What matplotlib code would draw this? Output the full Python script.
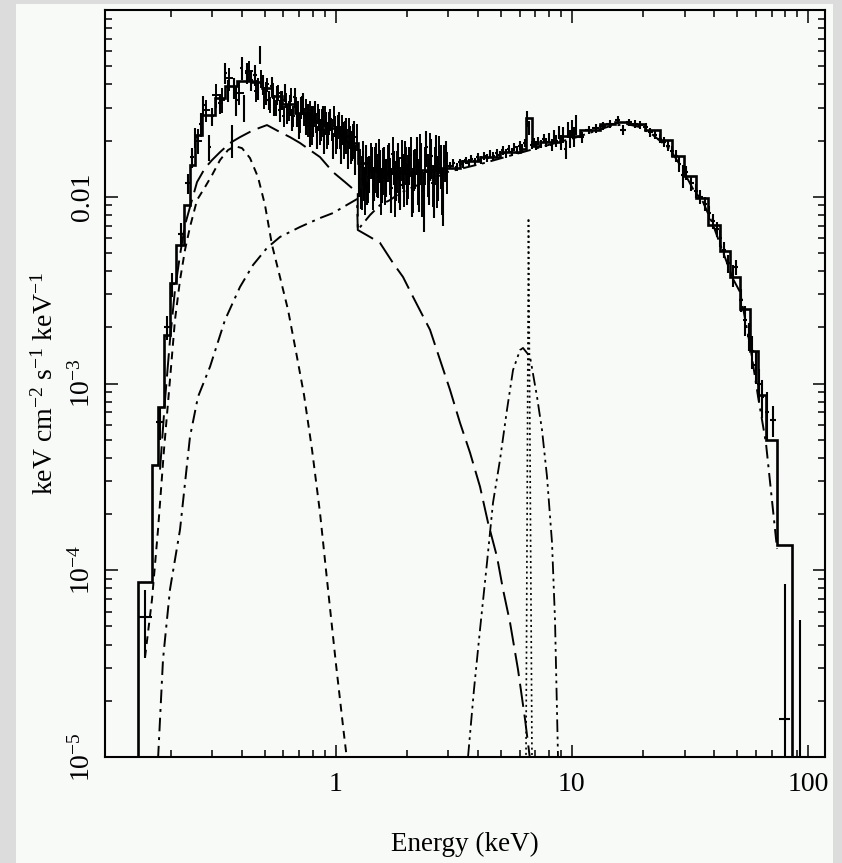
import numpy as np
import matplotlib
matplotlib.use("Agg")
import matplotlib.pyplot as plt
from matplotlib.patches import Rectangle
from matplotlib.ticker import FixedLocator, FixedFormatter, LogLocator, NullFormatter

plt.rcParams['font.family'] = ['Liberation Serif', 'DejaVu Serif']
plt.rcParams['mathtext.fontset'] = 'custom'
plt.rcParams['mathtext.rm'] = 'Liberation Serif'
plt.rcParams['mathtext.it'] = 'Liberation Serif:italic'

##### DATA #####
# total model, step histogram (bin edges in keV, flux per bin)
model_edges = [0.1456, 0.1668, 0.1769, 0.1875, 0.1988, 0.2108, 0.2279, 0.2416, 0.2537, 0.2716,
               0.3083, 0.3399, 0.3821, 0.4420, 0.4875, 0.5374, 0.5925, 0.6724, 0.7783, 0.9010,
               1.043, 1.172, 1.243, 1.397, 1.617, 1.871, 2.275, 2.764, 3.359, 4.083,
               4.962, 6.030, 6.39, 6.78, 7.328, 8.906, 10.82, 13.15, 15.22, 17.62,
               20.39, 23.61, 26.53, 29.83, 33.53, 37.69, 42.36, 46.71, 51.49, 56.76,
               61.37, 66.34, 73.87, 85.50]
model_flux = [8.7e-5, 3.67e-4, 7.5e-4, 1.82e-3, 3.46e-3, 5.52e-3, 9.03e-3, 0.0148, 0.0214,
              0.0274, 0.0337, 0.0391, 0.0416, 0.0410, 0.0381, 0.0346, 0.0313, 0.0280, 0.0254,
              0.0233, 0.0211, 0.0194, 0.0151, 0.0139, 0.0136, 0.0134, 0.0139, 0.0142, 0.0155,
              0.0163, 0.0173, 0.0180, 0.0264, 0.0187, 0.0196, 0.0211, 0.0227, 0.0245, 0.0251,
              0.0245, 0.0227, 0.0201, 0.0165, 0.0129, 0.0098, 0.0071, 0.0051, 0.0037, 0.0025,
              0.0015, 8.7e-4, 5.0e-4, 1.37e-4]

# soft blackbody-like component (short dashes)
bb_E = [0.1558, 0.1668, 0.1769, 0.1875, 0.1988, 0.2087, 0.2192, 0.2301, 0.2416, 0.2587,
        0.2797, 0.2995, 0.3238, 0.3499, 0.3747, 0.4012, 0.4337, 0.4688, 0.5019, 0.5374,
        0.5808, 0.6282, 0.6791, 0.7341, 0.7939, 0.8581, 0.9278, 1.003, 1.084, 1.150]
bb_flux = [3.41e-5, 6.97e-5, 1.65e-4, 4.42e-4, 1.05e-3, 2.19e-3, 3.58e-3, 5.19e-3, 6.89e-3, 9.6e-3,
           0.01127, 0.01306, 0.01572, 0.01778, 0.01867, 0.01821, 0.01611, 0.01274, 9.03e-3, 5.52e-3,
           3.72e-3, 2.48e-3, 1.48e-3, 8.7e-4, 4.42e-4, 2.03e-4, 7.9e-5, 3.13e-5, 1.32e-5, 7.1e-6]

# warm component (long dashes), with the edge near 1.24 keV
ld_E = [0.1804, 0.1894, 0.1988, 0.2087, 0.2192, 0.2301, 0.2416, 0.2587, 0.2797, 0.2995,
        0.3238, 0.3569, 0.3934, 0.4466, 0.5117, 0.5808, 0.6404, 0.7062, 0.7783, 0.8581,
        0.9741, 1.095, 1.24, 1.24, 1.397, 1.540, 1.748, 1.927, 2.125, 2.507,
        2.764, 3.047, 3.359, 3.704, 4.083, 4.414, 4.818, 5.108, 5.470, 5.913,
        6.333, 6.648]
ld_flux = [3.46e-4, 8.18e-4, 1.71e-3, 3.17e-3, 4.88e-3, 7.06e-3, 8.81e-3, 0.01198, 0.01424, 0.01572,
           0.01734, 0.0194, 0.02086, 0.0227, 0.0242, 0.0222, 0.02086, 0.0194, 0.01778, 0.01631,
           0.01355, 0.01198, 0.01047, 6.64e-3, 6.09e-3, 5.66e-3, 4.42e-3, 3.72e-3, 2.91e-3, 1.94e-3,
           1.34e-3, 9.25e-4, 6.16e-4, 4.26e-4, 2.80e-4, 1.80e-4, 1.18e-4, 7.9e-5, 5.25e-5, 2.94e-5,
           1.59e-5, 9.7e-6]

# comptonised continuum (dash-dot)
cp_E = [0.1769, 0.1857, 0.1988, 0.2192, 0.2416, 0.2612, 0.2937, 0.3399, 0.3934, 0.4466,
        0.5117, 0.5808, 0.7062, 0.8581, 0.9741, 1.095, 1.231, 1.24, 1.397, 1.540,
        1.698, 1.871, 2.125, 2.507, 2.960, 4.204, 6.648, 10.51, 14.5, 17.1,
        19.4, 22.05, 26.0, 28.7, 32.6, 35.9, 39.6, 43.6, 48.1, 51.5,
        56.8, 61.4, 66.3, 73.9]
cp_flux = [9.7e-6, 3.33e-5, 7.9e-5, 1.65e-4, 5.19e-4, 8.49e-4, 1.23e-3, 2.19e-3, 3.29e-3, 4.31e-3,
           5.32e-3, 6.09e-3, 6.89e-3, 7.69e-3, 8.18e-3, 8.92e-3, 9.72e-3, 6.64e-3, 7.98e-3, 9.03e-3,
           9.60e-3, 0.01047, 0.01127, 0.01228, 0.01355, 0.0151, 0.01778, 0.02086, 0.0239, 0.0245,
           0.0236, 0.0214, 0.0180, 0.01477, 0.01099, 9.37e-3, 7.06e-3, 5.06e-3, 3.63e-3, 3.09e-3,
           1.60e-3, 8.5e-4, 4.8e-4, 1.3e-4]

# broad iron line (dash-dot-dot)
fe_E = [3.632, 3.850, 4.083, 4.371, 4.634, 4.962, 5.311, 5.632, 6.030, 6.209,
        6.648, 7.117, 7.470, 7.845, 8.236, 8.480, 8.732]
fe_flux = [1.0e-5, 2.30e-5, 4.82e-5, 1.10e-4, 2.30e-4, 3.91e-4, 7.24e-4, 1.18e-3, 1.51e-3, 1.55e-3,
           1.39e-3, 8.49e-4, 5.65e-4, 3.17e-4, 1.41e-4, 5.45e-5, 1.0e-5]

# narrow iron line (dotted)
nl_E = [6.39, 6.55, 6.78]
nl_flux = [9e-6, 7.7e-3, 9e-6]

# unfolded data points, first instrument
data_E = [0.156, 0.180, 0.193, 0.203, 0.222, 0.236, 0.246, 0.254, 0.268, 0.275,
          0.292, 0.300, 0.324, 0.340, 0.350, 0.365, 0.372, 0.380, 0.400, 0.410,
          0.420, 0.440, 0.455, 0.470, 0.478, 0.490, 0.505, 0.520, 0.535, 0.550,
          0.565, 0.580, 0.595, 0.610, 0.625, 0.640, 0.655, 0.670, 0.685, 0.700,
          0.715, 0.730, 0.745, 0.760, 0.775, 0.790, 0.805, 0.820, 0.835, 0.850,
          0.865, 0.880, 0.895, 0.910, 0.930, 0.950, 0.970, 0.990, 1.01, 1.03,
          1.05, 1.07, 1.09, 1.11, 1.13, 1.15, 1.17, 1.19, 1.21, 1.26,
          1.28, 1.30, 1.32, 1.34, 1.36, 1.39, 1.42, 1.45, 1.48, 1.51,
          1.54, 1.57, 1.60, 1.64, 1.68, 1.72, 1.76, 1.80, 1.84, 1.88,
          1.92, 1.96, 2.00, 2.05, 2.10, 2.15, 2.20, 2.25, 2.30, 2.36,
          2.42, 2.48, 2.54, 2.60, 2.66, 2.72, 2.78, 2.85, 2.92, 3.05,
          3.15, 3.25, 3.35, 3.45, 3.55, 3.65, 3.75, 3.87, 4.00, 4.12,
          4.25, 4.38, 4.50, 4.65, 4.80, 4.95, 5.10, 5.25, 5.40, 5.55,
          5.70, 5.85, 6.00, 6.15, 6.30, 6.45, 6.60, 6.75, 6.90, 7.05,
          7.20, 7.40, 7.60, 7.80, 8.00, 8.20, 8.40, 8.60, 8.80, 9.00,
          9.20, 9.40, 9.60, 9.80, 10.0, 10.2, 10.4, 11.0, 11.8, 12.6,
          13.5, 14.5, 15.6, 16.5, 17.5, 18.5, 19.5, 20.5, 21.5, 22.5,
          23.5, 24.5, 25.5, 26.5, 27.5, 28.5, 29.5, 30.5, 32.0, 33.5,
          35.0, 36.5, 38.0, 39.5, 41.0, 42.5, 44.0, 46.0, 48.0, 49.5,
          52.0, 54.0, 56.0, 58.0, 60.0, 62.0, 64.0, 67.0, 71.0, 79.5,
          92.0]
data_flux = [5.6e-5, 6.2e-4, 2.0e-3, 3.4e-3, 6.3e-3, 0.0118, 0.0163, 0.0208, 0.0245, 0.031,
             0.0185, 0.027, 0.0316, 0.046, 0.037, 0.0201, 0.0385, 0.033, 0.049, 0.030,
             0.046, 0.042, 0.045, 0.038, 0.058, 0.040, 0.036, 0.033, 0.039, 0.031,
             0.035, 0.029, 0.033, 0.036, 0.028, 0.031, 0.026, 0.034, 0.027, 0.024,
             0.030, 0.032, 0.025, 0.028, 0.022, 0.027, 0.024, 0.029, 0.021, 0.026,
             0.023, 0.027, 0.020, 0.025, 0.022, 0.026, 0.019, 0.024, 0.021, 0.025,
             0.018, 0.022, 0.020, 0.023, 0.017, 0.021, 0.019, 0.022, 0.016, 0.0125,
             0.0098, 0.0145, 0.012, 0.016, 0.0105, 0.0135, 0.0155, 0.012, 0.0165, 0.0128,
             0.0148, 0.0118, 0.0155, 0.0130, 0.0160, 0.0112, 0.0145, 0.0125, 0.0158, 0.0115,
             0.0140, 0.0165, 0.0120, 0.0150, 0.0108, 0.0142, 0.0170, 0.0118, 0.0155, 0.0100,
             0.0185, 0.0125, 0.0165, 0.0112, 0.0175, 0.0130, 0.0150, 0.0105, 0.0160, 0.0147,
             0.0152, 0.0145, 0.0153, 0.0150, 0.0157, 0.0152, 0.0160, 0.0155, 0.0163, 0.0158,
             0.0166, 0.0162, 0.0170, 0.0165, 0.0172, 0.0168, 0.0177, 0.0171, 0.0180, 0.0174,
             0.0185, 0.0178, 0.0188, 0.0182, 0.0195, 0.0262, 0.0235, 0.0190, 0.0196, 0.0189,
             0.0200, 0.0192, 0.0205, 0.0196, 0.0207, 0.0190, 0.0212, 0.0200, 0.0222, 0.0195,
             0.0215, 0.0180, 0.0228, 0.0205, 0.0232, 0.0210, 0.0245, 0.0208, 0.0228, 0.0232,
             0.0240, 0.0246, 0.0257, 0.0228, 0.0250, 0.0246, 0.0242, 0.0235, 0.0222, 0.0215,
             0.0205, 0.0196, 0.0187, 0.0176, 0.0166, 0.0150, 0.0130, 0.0135, 0.0118, 0.0108,
             0.0100, 0.0092, 0.0082, 0.0074, 0.0067, 0.0060, 0.0052, 0.0044, 0.0038, 0.0042,
             0.0028, 0.0022, 0.0018, 0.0015, 0.00125, 0.00100, 0.00085, 0.00070, 0.00064, 1.6e-5,
             5e-6]
data_err = [2.2e-5, 1.2e-4, 3.0e-4, 5.0e-4, 9e-4, 1.5e-3, 2.0e-3, 2.5e-3, 3.5e-3, 3.5e-3,
            3e-3, 3e-3, 4e-3, 6e-3, 5e-3, 4e-3, 5e-3, 6e-3, 7e-3, 5e-3,
            6e-3, 5e-3, 6e-3, 5e-3, 6.5e-3, 5e-3, 5e-3, 4e-3, 5e-3, 4e-3,
            4e-3, 4e-3, 4e-3, 4e-3, 3.5e-3, 4e-3, 3.5e-3, 4e-3, 3.5e-3, 3.5e-3,
            4e-3, 4e-3, 3.5e-3, 3.5e-3, 3.5e-3, 3.5e-3, 3e-3, 3.5e-3, 3e-3, 3.5e-3,
            3e-3, 3.5e-3, 3e-3, 3.5e-3, 3e-3, 3.5e-3, 3e-3, 3e-3, 3e-3, 3.5e-3,
            3e-3, 3e-3, 3e-3, 3.5e-3, 3e-3, 3e-3, 3.5e-3, 3.5e-3, 3e-3, 2.5e-3,
            1.2e-3, 3e-3, 2.5e-3, 3e-3, 1.5e-3, 3e-3, 3e-3, 2.5e-3, 3e-3, 3e-3,
            3e-3, 2.5e-3, 3e-3, 3e-3, 3.5e-3, 3e-3, 3e-3, 3e-3, 3.5e-3, 3e-3,
            3e-3, 3.5e-3, 3e-3, 3.5e-3, 3e-3, 3.5e-3, 4e-3, 3.5e-3, 4e-3, 3.5e-3,
            4e-3, 3.5e-3, 4e-3, 3.5e-3, 4e-3, 3.5e-3, 4e-3, 3.5e-3, 4e-3, 7e-4,
            7e-4, 7e-4, 7e-4, 7e-4, 7e-4, 7e-4, 7e-4, 7e-4, 8e-4, 8e-4,
            8e-4, 8e-4, 8e-4, 8e-4, 8e-4, 8e-4, 9e-4, 9e-4, 9e-4, 9e-4,
            9e-4, 9e-4, 1e-3, 1e-3, 1e-3, 2.5e-3, 2e-3, 1e-3, 1e-3, 1e-3,
            1e-3, 1e-3, 1.1e-3, 1.1e-3, 1.2e-3, 1.5e-3, 1.5e-3, 1.5e-3, 1.8e-3, 1.8e-3,
            2e-3, 2e-3, 2.2e-3, 2.2e-3, 2.5e-3, 2.5e-3, 3e-3, 1.5e-3, 1.2e-3, 1.2e-3,
            1.2e-3, 1.2e-3, 1.2e-3, 1.5e-3, 1.2e-3, 1.2e-3, 1.2e-3, 1.2e-3, 1.2e-3, 1.2e-3,
            1.2e-3, 1.2e-3, 1.2e-3, 1.2e-3, 1.2e-3, 1.5e-3, 1.8e-3, 1.2e-3, 1e-3, 9e-4,
            9e-4, 8e-4, 7e-4, 7e-4, 6e-4, 6e-4, 5e-4, 5e-4, 5e-4, 4e-4,
            4e-4, 4e-4, 3e-4, 3e-4, 2.5e-4, 2e-4, 2e-4, 2e-4, 1.2e-4, 6.8e-5,
            4.9e-5]

# second instrument, soft band only
datb_E = [0.262, 0.283, 0.31, 0.33, 0.355, 0.39, 0.43, 0.462, 0.485, 0.497,
          0.512, 0.527, 0.542, 0.557, 0.572, 0.587, 0.602, 0.617, 0.632, 0.647,
          0.662, 0.677, 0.692, 0.707, 0.722, 0.737, 0.752, 0.767, 0.782, 0.797,
          0.812, 0.827, 0.842, 0.857, 0.872, 0.887, 0.902, 0.92, 0.94, 0.96,
          0.98, 1.00, 1.02, 1.04, 1.06, 1.08, 1.10, 1.12, 1.14, 1.16,
          1.18, 1.20, 1.225, 1.27, 1.29, 1.31, 1.33, 1.35, 1.375, 1.405,
          1.435, 1.465, 1.495, 1.525, 1.555, 1.585, 1.62, 1.66, 1.70, 1.74,
          1.78, 1.82, 1.86, 1.90, 1.94, 1.98, 2.025, 2.075, 2.125, 2.175,
          2.225, 2.275, 2.33, 2.39, 2.45, 2.51, 2.57, 2.63, 2.69, 2.75,
          2.815, 2.885, 2.96]
datb_flux = [0.020, 0.029, 0.035, 0.033, 0.043, 0.036, 0.047, 0.037, 0.043, 0.034,
             0.040, 0.031, 0.037, 0.030, 0.036, 0.034, 0.027, 0.033, 0.029, 0.035,
             0.027, 0.031, 0.029, 0.025, 0.031, 0.027, 0.030, 0.024, 0.029, 0.022,
             0.027, 0.025, 0.028, 0.022, 0.026, 0.024, 0.027, 0.021, 0.025, 0.023,
             0.027, 0.020, 0.024, 0.021, 0.024, 0.019, 0.022, 0.020, 0.023, 0.018,
             0.021, 0.019, 0.021, 0.0145, 0.0125, 0.0165, 0.0110, 0.0150, 0.0128, 0.0160,
             0.0115, 0.0145, 0.0135, 0.0168, 0.0110, 0.0142, 0.0125, 0.0155, 0.0132, 0.0170,
             0.0108, 0.0140, 0.0128, 0.0162, 0.0118, 0.0150, 0.0132, 0.0168, 0.0112, 0.0145,
             0.0125, 0.0178, 0.0108, 0.0150, 0.0135, 0.0180, 0.0118, 0.0150, 0.0122, 0.0172,
             0.0110, 0.0155, 0.0138]
datb_err = [3e-3, 4e-3, 5e-3, 5e-3, 6e-3, 5e-3, 6e-3, 5e-3, 5e-3, 4.5e-3,
            3.5e-3, 3e-3, 3.5e-3, 3e-3, 3.5e-3, 3e-3, 3.5e-3, 3e-3, 3.5e-3, 3e-3,
            3.5e-3, 3e-3, 3.5e-3, 3e-3, 3.5e-3, 3e-3, 3.5e-3, 3e-3, 3.5e-3, 3e-3,
            3.5e-3, 3e-3, 3.5e-3, 3e-3, 3.5e-3, 3e-3, 3.5e-3, 3e-3, 3.5e-3, 3e-3,
            3.5e-3, 3e-3, 3.5e-3, 3e-3, 3.5e-3, 3e-3, 3.5e-3, 3e-3, 3.5e-3, 3e-3,
            3.5e-3, 3e-3, 3.5e-3, 3.5e-3, 4e-3, 3.5e-3, 3e-3, 4e-3, 3.5e-3, 3.5e-3,
            3e-3, 4e-3, 3.5e-3, 3.5e-3, 3e-3, 4e-3, 3.5e-3, 3.5e-3, 3e-3, 4e-3,
            3e-3, 3.5e-3, 3.5e-3, 4e-3, 3e-3, 3.5e-3, 3.5e-3, 4e-3, 3e-3, 3.5e-3,
            3.5e-3, 4e-3, 3e-3, 3.5e-3, 3.5e-3, 4e-3, 3e-3, 3.5e-3, 3.5e-3, 4e-3,
            3e-3, 3.5e-3, 3.5e-3]

xticks = [1, 10, 100]
xtick_labels = ["1", "10", "100"]
yticks = [1e-5, 1e-4, 1e-3, 1e-2]
ytick_labels = [r"$10^{-5}$", r"$10^{-4}$", r"$10^{-3}$", "0.01"]


def half_widths(energies):
    # horizontal half-width: half the gap to the nearest neighbour
    e = np.array(energies)
    gaps = np.diff(e)
    half = 0.5 * np.minimum(np.r_[gaps[0], gaps], np.r_[gaps, gaps[-1]])
    return np.minimum(half, 0.07 * e)


##### PLOT #####
bg = "#f8faf8"
fig = plt.figure(figsize=(8.42, 8.63), dpi=100, facecolor="#dcdcdc")
ax = fig.add_axes([105 / 842, 1 - 757 / 863, 720 / 842, 747 / 863], facecolor=bg)
# light panel behind the axes, leaving a grey frame on the left, top and right
fig.add_artist(Rectangle((16 / 842, 0), 817 / 842, 1 - 4 / 863, transform=fig.transFigure,
                         facecolor=bg, edgecolor="none", zorder=-10))
ax.set_xscale("log")
ax.set_yscale("log")

flux = np.array(data_flux)
err = np.array(data_err)
err_lo = np.minimum(err, flux * 0.999)
ax.errorbar(data_E, flux, xerr=half_widths(data_E), yerr=[err_lo, err], fmt="none",
            ecolor="black", elinewidth=1.5, capsize=0, zorder=3)
ax.errorbar(datb_E, datb_flux, xerr=half_widths(datb_E), yerr=datb_err, fmt="none",
            ecolor="black", elinewidth=1.4, capsize=0, zorder=3)

ax.stairs(model_flux, model_edges, baseline=1e-7, color="black", linewidth=1.9, zorder=4)
ax.plot(bb_E, bb_flux, color="black", lw=1.4, dashes=(4, 3), zorder=2)
ax.plot(ld_E, ld_flux, color="black", lw=1.4, dashes=(12, 4), zorder=2)
ax.plot(cp_E, cp_flux, color="black", lw=1.4, dashes=(7, 3, 1.5, 3), zorder=2)
ax.plot(fe_E, fe_flux, color="black", lw=1.3, dashes=(7, 2.5, 1.5, 2.5, 1.5, 2.5), zorder=2)
ax.plot(nl_E, nl_flux, color="black", lw=1.2, dashes=(1.2, 2), zorder=2)

ax.set_xlim(0.1055, 117.9)
ax.set_ylim(1e-5, 0.1)

ax.xaxis.set_major_locator(FixedLocator(xticks))
ax.xaxis.set_major_formatter(FixedFormatter(xtick_labels))
ax.xaxis.set_minor_locator(LogLocator(base=10, subs=np.arange(2, 10)))
ax.xaxis.set_minor_formatter(NullFormatter())
ax.yaxis.set_major_locator(FixedLocator(yticks + [0.1]))
ax.yaxis.set_major_formatter(FixedFormatter(ytick_labels + [""]))
ax.yaxis.set_minor_locator(LogLocator(base=10, subs=np.arange(2, 10)))
ax.yaxis.set_minor_formatter(NullFormatter())

ax.tick_params(which="both", direction="in", top=True, right=True, width=1.1, color="black")
ax.tick_params(which="major", length=9)
ax.tick_params(which="minor", length=5)
ax.tick_params(axis="x", labelsize=20, pad=11)
ax.tick_params(axis="y", labelsize=20, pad=7)
for lbl in ax.get_yticklabels():
    lbl.set_rotation(90)
    lbl.set_va("center")
for sp in ax.spines.values():
    sp.set_linewidth(1.5)

ax.set_xlabel("Energy (keV)", fontsize=19.5, labelpad=25)
ax.set_ylabel(r"keV cm$^{-2}$ s$^{-1}$ keV$^{-1}$", fontsize=20, labelpad=7)

fig.savefig("out.png", dpi=100, facecolor=fig.get_facecolor())
